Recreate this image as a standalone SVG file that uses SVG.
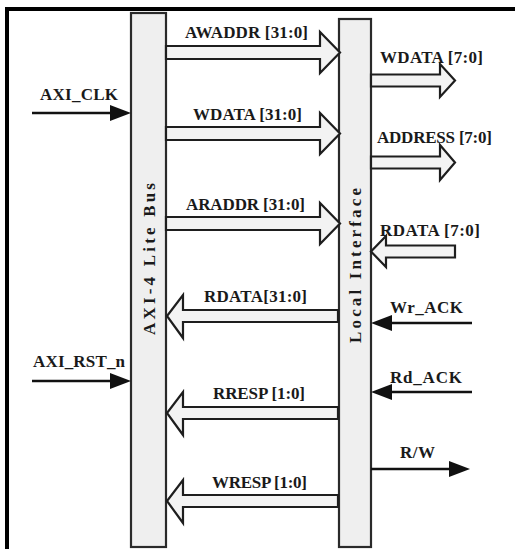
<svg xmlns="http://www.w3.org/2000/svg" width="515" height="549" viewBox="0 0 515 549">
<style>
.bar{fill:#efefef;stroke:#2a2a2a;stroke-width:2.2}
.ba{fill:#f3f3f3;stroke:#1e1e1e;stroke-width:2.2;stroke-linejoin:miter}
.ln{stroke:#111;stroke-width:2.6;fill:none}
.hd{fill:#111}
text{font-family:"Liberation Serif","Times New Roman",serif;font-weight:bold;font-size:17px;fill:#1a1a1a}
.v{font-size:17px}
</style>
<rect width="515" height="549" fill="#fff"/>
<g id="frame">
<rect x="5" y="7" width="510" height="4" fill="#000"/>
<rect x="5" y="7" width="4" height="542" fill="#000"/>
</g>
<g id="axi_bus">
<rect class="bar" x="131" y="13" width="35" height="534"/>
<text class="v" transform="translate(155,259) rotate(-90)" text-anchor="middle" textLength="152" lengthAdjust="spacing">AXI-4 Lite Bus</text>
</g>
<g id="local_interface">
<rect class="bar" x="339" y="19" width="32" height="528"/>
<text class="v" transform="translate(361,265.5) rotate(-90)" text-anchor="middle" textLength="155" lengthAdjust="spacing">Local Interface</text>
</g>
<g id="connectors">
<polygon class="ba" points="166,46 320,46 320,32 340,52.5 320,73 320,59 166,59"/>
<polygon class="ba" points="166,127 320,127 320,113 340,133.5 320,154 320,140 166,140"/>
<polygon class="ba" points="166,217 320,217 320,203 340,223.5 320,244 320,230 166,230"/>
<polygon class="ba" points="338,310 183,310 183,295 167,316 183,338 183,322 338,322"/>
<polygon class="ba" points="338,407 183,407 183,392 167,413 183,435 183,419 338,419"/>
<polygon class="ba" points="338,495 183,495 183,480 167,501 183,523 183,507 338,507"/>
<polygon class="ba" points="371,74.5 440,74.5 440,64 455,80.5 440,97 440,86.5 371,86.5"/>
<polygon class="ba" points="371,156.5 440,156.5 440,145 455,162.5 440,180 440,168.5 371,168.5"/>
<polygon class="ba" points="455,245.5 386,245.5 386,236 371,251.5 386,267 386,257.5 455,257.5"/>
<line class="ln" x1="32" y1="113" x2="112" y2="113"/>
<polygon class="hd" points="110,105 131,113 110,121"/>
<line class="ln" x1="32" y1="381" x2="112" y2="381"/>
<polygon class="hd" points="110,373 131,381 110,389"/>
<line class="ln" x1="472" y1="323" x2="390" y2="323"/>
<polygon class="hd" points="392,315 371,323 392,331"/>
<line class="ln" x1="472" y1="392" x2="390" y2="392"/>
<polygon class="hd" points="392,384 371,392 392,400"/>
<line class="ln" x1="371" y1="469" x2="452" y2="469"/>
<polygon class="hd" points="449,461 470,469 449,477"/>
</g>
<g id="labels">
<text x="185" y="38" textLength="123" lengthAdjust="spacing">AWADDR [31:0]</text>
<text x="193" y="120" textLength="109" lengthAdjust="spacing">WDATA [31:0]</text>
<text x="186" y="210" textLength="119" lengthAdjust="spacing">ARADDR [31:0]</text>
<text x="204" y="302" textLength="103" lengthAdjust="spacing">RDATA[31:0]</text>
<text x="213" y="399" textLength="92" lengthAdjust="spacing">RRESP [1:0]</text>
<text x="212" y="488" textLength="95" lengthAdjust="spacing">WRESP [1:0]</text>
<text x="380" y="63" textLength="103" lengthAdjust="spacing">WDATA [7:0]</text>
<text x="377" y="143" textLength="115" lengthAdjust="spacing">ADDRESS [7:0]</text>
<text x="380" y="236" textLength="100" lengthAdjust="spacing">RDATA [7:0]</text>
<text x="390" y="313" textLength="73" lengthAdjust="spacing">Wr_ACK</text>
<text x="390" y="383" textLength="72" lengthAdjust="spacing">Rd_ACK</text>
<text x="400" y="458" textLength="35" lengthAdjust="spacing">R/W</text>
<text x="40" y="100" textLength="78" lengthAdjust="spacing">AXI_CLK</text>
<text x="33" y="367" textLength="92" lengthAdjust="spacing">AXI_RST_n</text>
</g>
</svg>
